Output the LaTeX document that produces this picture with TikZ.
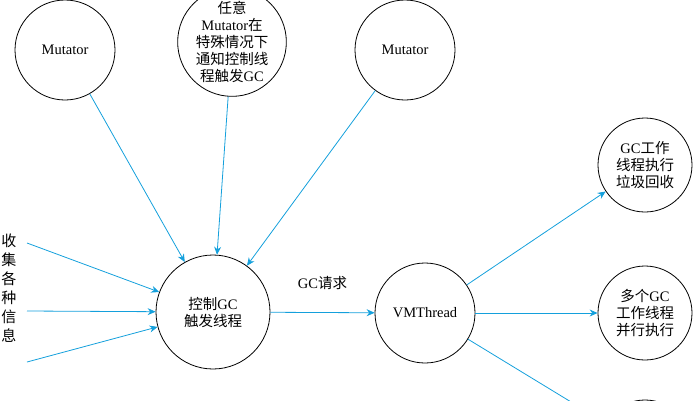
\documentclass[tikz,border=0pt]{standalone}
\usepackage{fontspec}
\setmainfont{Liberation Serif}
\newfontfamily\cjk{Noto Sans CJK SC}
\usetikzlibrary{arrows.meta,positioning}
\definecolor{flow}{RGB}{20,160,220}
\newcommand{\zh}[1]{{\cjk #1}}
\begin{document}
\begin{tikzpicture}[x=1pt,y=-1pt,
  every node/.style={circle, draw=black, thick, minimum size=100pt, align=center, font=\fontsize{14.5}{17}\selectfont, inner sep=0pt},
  flowline/.style={draw=flow, thick, -{Stealth[length=8pt,width=7pt]}}]
\clip (0,0) rectangle (698,400);
\node (m1) at (65,50) {Mutator};
\node (any) at (232,42) {\zh{任意}\\Mutator\zh{在}\\\zh{特殊情况下}\\\zh{通知控制线}\\\zh{程触发}GC};
\node (m2) at (405,50) {Mutator};
\node[minimum size=114pt] (ctrl) at (213,312) {\zh{控制}GC\\\zh{触发线程}};
\node (vm) at (425,313) {VMThread};
\node[minimum size=94pt] (w1) at (645,165) {GC\zh{工作}\\\zh{线程执行}\\\zh{垃圾回收}};
\node[minimum size=94pt] (w2) at (645,313) {\zh{多个}GC\\\zh{工作线程}\\\zh{并行执行}};
\node[minimum size=94pt] (w3) at (645,447) {};
\node[draw=none, minimum size=0pt, font=\fontsize{15}{19}\selectfont] (info) at (9,288) {\zh{收}\\\zh{集}\\\zh{各}\\\zh{种}\\\zh{信}\\\zh{息}};
\coordinate (s1) at (27,243);
\coordinate (s2) at (27,311);
\coordinate (s3) at (27,362);
\path[flowline] (m1) -- (ctrl);
\path[flowline] (any) -- (ctrl);
\path[flowline] (m2) -- (ctrl);
\path[flowline] (s1) -- (ctrl);
\path[flowline] (s2) -- (ctrl);
\path[flowline] (s3) -- (ctrl);
\path[flowline] (ctrl) -- node[draw=none, minimum size=0pt, above=4pt] {GC\zh{请求}} (vm);
\path[flowline] (vm) -- (w1);
\path[flowline] (vm) -- (w2);
\path[flowline] (vm) -- (w3);
\end{tikzpicture}
\end{document}
